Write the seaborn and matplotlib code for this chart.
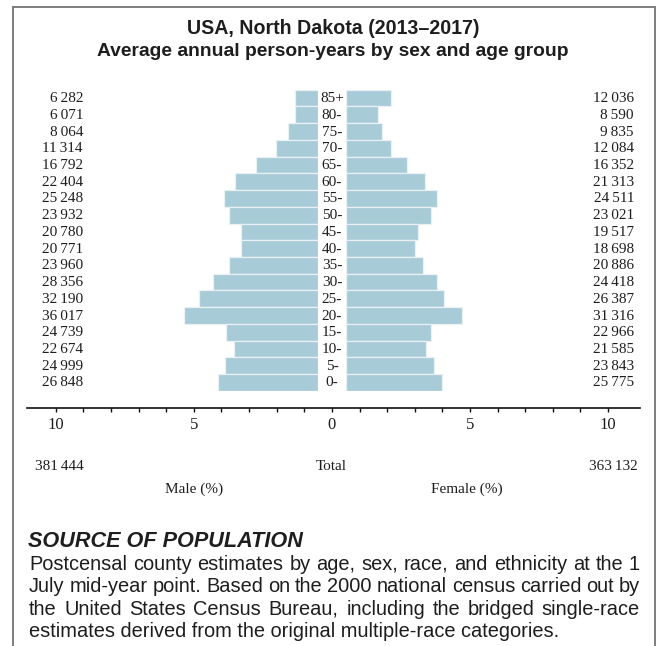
import numpy as np
import pandas as pd
import matplotlib
matplotlib.use("Agg")
import matplotlib.pyplot as plt
import seaborn as sns
from matplotlib import transforms
from matplotlib.lines import Line2D

# ---------------- data ----------------
ages = ["85+", "80-", "75-", "70-", "65-", "60-", "55-", "50-", "45-",
        "40-", "35-", "30-", "25-", "20-", "15-", "10-", "5-", "0-"]
male = [6282, 6071, 8064, 11314, 16792, 22404, 25248, 23932, 20780,
        20771, 23960, 28356, 32190, 36017, 24739, 22674, 24999, 26848]
female = [12036, 8590, 9835, 12084, 16352, 21313, 24511, 23021, 19517,
          18698, 20886, 24418, 26387, 31316, 22966, 21585, 23843, 25775]
male_total = 381444
female_total = 363132
tick_values = list(range(-10, 11))
tick_labels = ["10", "5", "0", "5", "10"]

title_lines = ["USA, North Dakota (2013\u20132017)",
               "Average annual person-years by sex and age group"]
source_title = "SOURCE OF POPULATION"
source_lines = [
    "Postcensal county estimates by age, sex, race, and ethnicity at the 1",
    "July mid-year point. Based on the 2000 national census carried out by",
    "the United States Census Bureau, including the bridged single-race",
    "estimates derived from the original multiple-race categories.",
]

# ---------------- style ----------------
sns.set_theme(style="white")
SANS = ["Liberation Sans", "DejaVu Sans"]
SERIF = ["Liberation Serif", "DejaVu Serif"]
plt.rcParams["font.family"] = SERIF
BAR = "#a8cbd8"
TXT = "#1e1e1e"

W, H = 656, 646
fig = plt.figure(figsize=(W / 100, H / 100), dpi=100)
fig.patch.set_facecolor("white")
renderer = fig.canvas.get_renderer()


def fx(px):
    return px / W


def fy(py):
    return 1 - py / H


PX_PER_UNIT = 27.6
ZERO_PX = 331.9
ROW_TOP, ROW_BOT = 89.7, 390.8

grand = male_total + female_total
df = pd.DataFrame({
    "age": ages,
    "male": np.array(male) / grand * 100,
    "female": np.array(female) / grand * 100,
})

# male axes (bars grow to the left)
L0, L1 = 27, 318
axL = fig.add_axes([fx(L0), fy(ROW_BOT), fx(L1) - fx(L0), (ROW_BOT - ROW_TOP) / H])
sns.barplot(data=df, x="male", y="age", order=ages, orient="h", color=BAR,
            saturation=1, width=1.0, edgecolor="#e8f1f4", linewidth=0.9, ax=axL)
axL.set_xlim((L1 - L0) / PX_PER_UNIT, 0)
axL.set_ylim(len(ages) - 0.5, -0.5)
axL.axis("off")

# female axes
R0, R1 = 346, 640
axR = fig.add_axes([fx(R0), fy(ROW_BOT), fx(R1) - fx(R0), (ROW_BOT - ROW_TOP) / H])
sns.barplot(data=df, x="female", y="age", order=ages, orient="h", color=BAR,
            saturation=1, width=1.0, edgecolor="#e8f1f4", linewidth=0.9, ax=axR)
axR.set_xlim(0, (R1 - R0) / PX_PER_UNIT)
axR.set_ylim(len(ages) - 0.5, -0.5)
axR.axis("off")


def fmt(v):
    return f"{v:,}".replace(",", "\u2009")


row_px = (ROW_BOT - ROW_TOP) / len(ages)
base_off = 4.0 / row_px
tr = transforms.blended_transform_factory(fig.transFigure, axL.transData)
for i, age in enumerate(ages):
    y = i + base_off
    axL.text(fx(83), y, fmt(male[i]), transform=tr, ha="right", va="baseline",
             fontsize=11, color=TXT, family=SERIF)
    axL.text(fx(634), y, fmt(female[i]), transform=tr, ha="right", va="baseline",
             fontsize=11, color=TXT, family=SERIF)
    axL.text(fx(332), y, age, transform=tr, ha="center", va="baseline",
             fontsize=11, color=TXT, family=SERIF, clip_on=False)

# percentage axis
A0, A1, AY = 27, 640, 408
axT = fig.add_axes([fx(A0), fy(AY), fx(A1) - fx(A0), 0.0001])
axT.set_facecolor("none")
axT.set_xlim((A0 - ZERO_PX) / PX_PER_UNIT, (A1 - ZERO_PX) / PX_PER_UNIT)
axT.set_yticks([])
for s in ["left", "right", "top"]:
    axT.spines[s].set_visible(False)
axT.spines["bottom"].set_color("#111111")
axT.spines["bottom"].set_linewidth(1.2)
axT.set_xticks(tick_values)
axT.set_xticklabels([tick_labels[(v + 10) // 5] if v % 5 == 0 else "" for v in tick_values],
                    family=SERIF, fontsize=12, color=TXT)
axT.tick_params(axis="x", direction="out", length=3.2, width=1.0, color="#111111",
                pad=3, bottom=True)

# totals and axis captions
fig.text(fx(35), fy(470), fmt(male_total), ha="left", va="baseline",
         fontsize=11, color=TXT, family=SERIF)
fig.text(fx(331), fy(470), "Total", ha="center", va="baseline",
         fontsize=11, color=TXT, family=SERIF)
fig.text(fx(638), fy(470), fmt(female_total), ha="right", va="baseline",
         fontsize=11, color=TXT, family=SERIF)
fig.text(fx(ZERO_PX - 5 * PX_PER_UNIT), fy(493), "Male (%)", ha="center", va="baseline",
         fontsize=11, color=TXT, family=SERIF)
fig.text(fx(ZERO_PX + 5 * PX_PER_UNIT - 3), fy(493), "Female (%)", ha="center", va="baseline",
         fontsize=11, color=TXT, family=SERIF)


def fit_size(text, target_px, **kw):
    t = fig.text(0, 0, text, fontsize=10, **kw)
    w = t.get_window_extent(renderer).width
    t.remove()
    return 10 * target_px / w


# title
ts1 = fit_size(title_lines[0], 292, family=SANS, fontweight="bold")
ts2 = fit_size(title_lines[1], 472, family=SANS, fontweight="bold")
ts = (ts1 + ts2) / 2
fig.text(fx(333), fy(34), title_lines[0], ha="center", va="baseline",
         fontsize=ts1, fontweight="bold", family=SANS, color=TXT)
fig.text(fx(333), fy(56), title_lines[1], ha="center", va="baseline",
         fontsize=ts2, fontweight="bold", family=SANS, color=TXT)

# source block
ss = fit_size(source_title, 274, family=SANS, fontweight="bold", fontstyle="italic")
fig.text(fx(28), fy(547), source_title, ha="left", va="baseline", fontsize=ss,
         fontweight="bold", fontstyle="italic", family=SANS, color=TXT)

bs = fit_size(source_lines[-1], 533, family=SANS)
X0, X1 = 29, 640
baselines = [570, 592.4, 614.8, 637.2]
for k, line in enumerate(source_lines):
    yb = fy(baselines[k])
    if k == len(source_lines) - 1:
        fig.text(fx(X0), yb, line, ha="left", va="baseline", fontsize=bs,
                 family=SANS, color=TXT)
        continue
    words = line.split(" ")
    objs = [fig.text(0, yb, w, ha="left", va="baseline", fontsize=bs,
                     family=SANS, color=TXT) for w in words]
    widths = [o.get_window_extent(renderer).width for o in objs]
    gap = (X1 - X0 - sum(widths)) / (len(words) - 1)
    xp = X0
    for o, wd in zip(objs, widths):
        o.set_x(fx(xp))
        xp += wd + gap

# frame
fig.add_artist(Line2D([fx(13), fx(13), fx(654.5), fx(654.5)],
                      [fy(660), fy(7), fy(7), fy(660)],
                      transform=fig.transFigure, color="#7d7d7d", lw=1.4,
                      solid_joinstyle="miter"))

fig.savefig("out.png", dpi=100, facecolor="white")
